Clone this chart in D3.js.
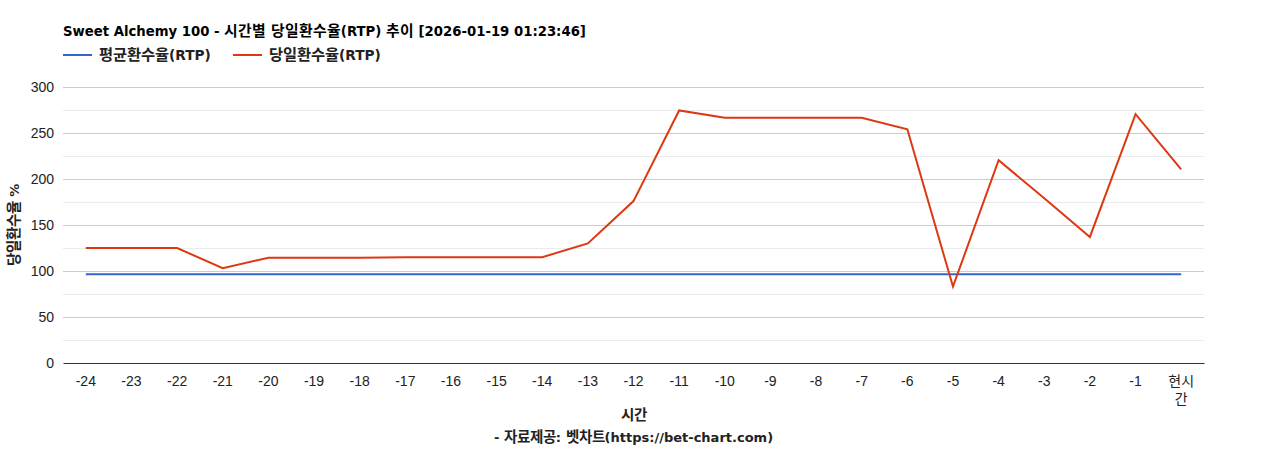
<!DOCTYPE html>
<html lang="ko">
  <head>
    <meta charset="utf-8">
    <title>RTP</title>
    <style>
      @font-face {
        font-family: "KoBold";
        src: local("Noto Sans CJK KR Bold"), local("NotoSansCJKkr-Bold"), local("Noto Sans CJK KR");
        font-weight: bold;
        unicode-range: U+1100-11FF, U+3130-318F, U+AC00-D7AF;
        size-adjust: 112%;
      }
      body { margin: 0; background: #fff; }
      text { font-family: "Liberation Sans", Arial, "Noto Sans CJK KR", sans-serif; }
      .bold { font-family: "KoBold", "DejaVu Sans", "Noto Sans CJK KR", sans-serif; font-weight: bold; }
    </style>
    <script src="https://d3js.org/d3.v7.min.js"></script>
  </head>
  <body>
    <div id="viz"></div>
    <script>

    var hours = ['-24','-23','-22','-21','-20','-19','-18','-17','-16','-15','-14','-13',
                 '-12','-11','-10','-9','-8','-7','-6','-5','-4','-3','-2','-1','현시간'];
    var avgRtp = [96.5,96.5,96.5,96.5,96.5,96.5,96.5,96.5,96.5,96.5,96.5,96.5,
                  96.5,96.5,96.5,96.5,96.5,96.5,96.5,96.5,96.5,96.5,96.5,96.5,96.5];
    var dayRtp = [125,125,125,103,114.5,114.5,114.5,115,115,115,115,130,
                  176,274.5,266.5,266.5,266.5,266.5,254,83,220.5,179,137,270.5,210.5];
    var yTicks = [0,50,100,150,200,250,300];

    var W = 1268, H = 450;
    var pLeft = 63, pRight = 1204, pTop = 87, pBottom = 363;

    var svg = d3.select('#viz').append('svg')
        .attr('width', W)
        .attr('height', H);

    var x = d3.scaleBand().domain(hours).range([pLeft, pRight]);
    var y = d3.scaleLinear().domain([0, 300]).range([pBottom, pTop]);

    // minor gridlines
    svg.append('g').selectAll('line')
      .data(d3.range(25, 300, 50))
      .enter().append('line')
        .attr('x1', pLeft).attr('x2', pRight)
        .attr('y1', function(d) { return Math.round(y(d)) + 0.5; })
        .attr('y2', function(d) { return Math.round(y(d)) + 0.5; })
        .attr('stroke', '#ebebeb');

    // y axis with major gridlines
    var yAxis = svg.append('g')
        .attr('transform', 'translate(' + pLeft + ',0)')
        .call(d3.axisLeft(y).tickValues(yTicks).tickSize(-(pRight - pLeft)).tickPadding(9));
    yAxis.select('.domain').remove();
    yAxis.selectAll('line').attr('stroke', function(d) { return d === 0 ? 'none' : '#cccccc'; });
    yAxis.selectAll('text').attr('font-size', 14).attr('fill', '#222');

    // x axis
    var xAxis = svg.append('g')
        .attr('transform', 'translate(0,' + pBottom + ')')
        .call(d3.axisBottom(x).tickSize(0).tickPadding(13));
    xAxis.select('.domain').attr('stroke', '#333').attr('stroke-width', 1);
    xAxis.selectAll('text').attr('font-size', 14).attr('fill', '#222')
      .each(function(d) {
        if (d === '현시간') {
          var t = d3.select(this).text(null);
          t.append('tspan').attr('x', 0).text('현시');
          t.append('tspan').attr('x', 0).attr('dy', '1.3em').text('간');
        }
      });

    var line = function(vals) {
      return d3.line()
        .x(function(d, i) { return x(hours[i]) + x.bandwidth() / 2; })
        .y(function(d) { return y(d); })(vals);
    };

    svg.append('path').attr('d', line(avgRtp))
      .attr('fill', 'none').attr('stroke', '#3366cc').attr('stroke-width', 2);
    svg.append('path').attr('d', line(dayRtp))
      .attr('fill', 'none').attr('stroke', '#dc3912').attr('stroke-width', 2);

    // title
    svg.append('text').attr('class', 'bold').attr('x', 63).attr('y', 36)
      .attr('font-size', 13.25).attr('fill', '#000')
      .text('Sweet Alchemy 100 - 시간별 당일환수율(RTP) 추이 [2026-01-19 01:23:46]');

    // legend
    var legend = [
      { name: '평균환수율(RTP)', color: '#3366cc', x: 63 },
      { name: '당일환수율(RTP)', color: '#dc3912', x: 233 }
    ];
    var lg = svg.append('g').selectAll('g').data(legend).enter().append('g')
      .attr('transform', function(d) { return 'translate(' + d.x + ',55)'; });
    lg.append('line').attr('x1', 0).attr('x2', 29).attr('y1', 0).attr('y2', 0)
      .attr('stroke', function(d) { return d.color; }).attr('stroke-width', 2);
    lg.append('text').attr('class', 'bold').attr('x', 36).attr('y', 5)
      .attr('font-size', 13.7).attr('fill', '#222')
      .text(function(d) { return d.name; });

    // axis titles
    svg.append('text').attr('class', 'bold')
      .attr('transform', 'translate(19,' + ((pTop + pBottom) / 2) + ') rotate(-90)')
      .attr('text-anchor', 'middle')
      .attr('font-size', 13).attr('fill', '#222')
      .text('당일환수율 %');

    svg.append('text').attr('class', 'bold').attr('x', (pLeft + pRight) / 2).attr('y', 420)
      .attr('text-anchor', 'middle')
      .attr('font-size', 13).attr('fill', '#222')
      .text('시간');
    svg.append('text').attr('class', 'bold').attr('x', (pLeft + pRight) / 2).attr('y', 442)
      .attr('text-anchor', 'middle')
      .attr('font-size', 13).attr('fill', '#222')
      .text('- 자료제공: 벳차트(https://bet-chart.com)');

    </script>
  </body>
</html>
